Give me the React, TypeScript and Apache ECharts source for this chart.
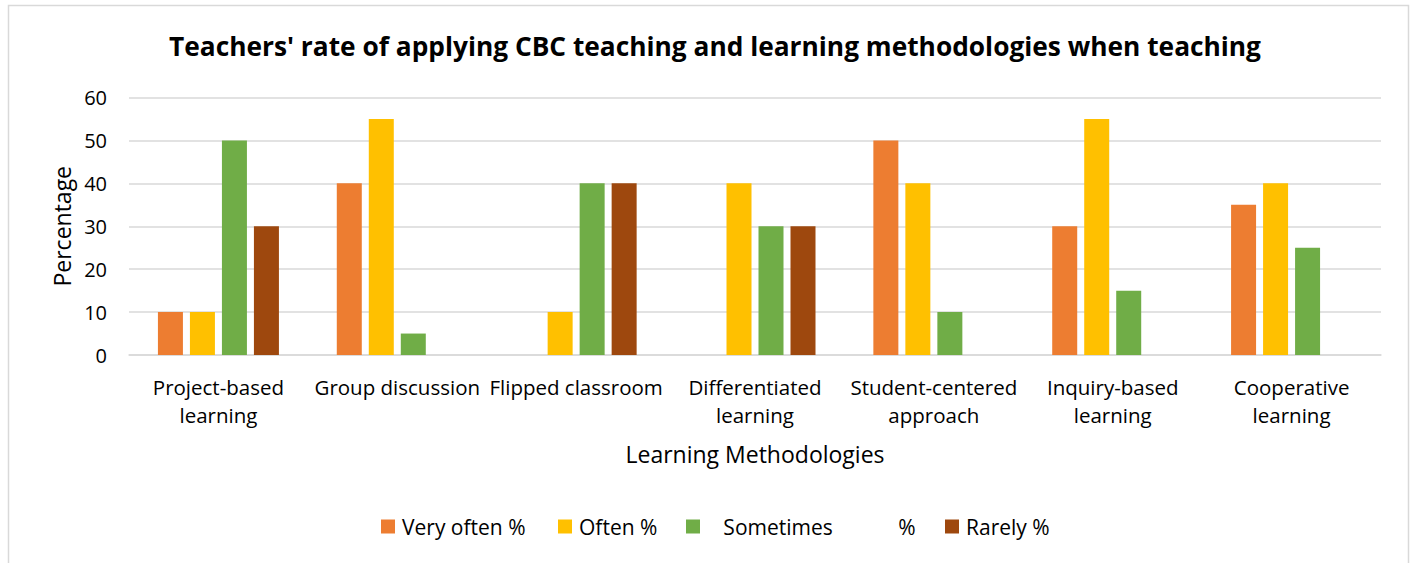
import React, { useEffect, useRef } from "react";
import * as echarts from "echarts";

const categories = [
  "Project-based\nlearning",
  "Group discussion",
  "Flipped classroom",
  "Differentiated\nlearning",
  "Student-centered\napproach",
  "Inquiry-based\nlearning",
  "Cooperative\nlearning",
];
const seriesNames = ["Very often %", "Often %", "   Sometimes            %", "Rarely %"];
const veryOften = [10, 40, 0, 0, 50, 30, 35];
const often = [10, 55, 10, 40, 40, 55, 40];
const sometimes = [50, 5, 40, 30, 10, 15, 25];
const rarely = [30, 0, 40, 30, 0, 0, 0];
const colors = ["#ED7D31", "#FFC000", "#70AD47", "#9E480E"];
const yTicks = { min: 0, max: 60, interval: 10 };

const FONT = "'Open Sans', sans-serif";
const legendLefts = [381, 558, 686, 945];

export default function App() {
  const ref = useRef<HTMLDivElement>(null);
  useEffect(() => {
    if (!ref.current) return;
    const chart = echarts.init(ref.current, null, { renderer: "svg" });
    const values = [veryOften, often, sometimes, rarely];
    chart.setOption({
      animation: false,
      backgroundColor: "#fff",
      textStyle: { fontFamily: FONT },
      title: {
        text: "Teachers' rate of applying CBC teaching and learning methodologies when teaching",
        left: 710,
        top: 28,
        textAlign: "center",
        textStyle: { fontFamily: FONT, fontWeight: "bold", fontSize: 26.3, color: "#000" },
      },
      graphic: [
        {
          type: "rect",
          shape: { x: 8.5, y: 5.5, width: 1400, height: 570 },
          style: { fill: "none", stroke: "#D9D9D9", lineWidth: 1.5 },
          silent: true,
        },
      ],
      legend: seriesNames.map((n, i) => ({
        left: legendLefts[i],
        top: 516,
        padding: 0,
        itemWidth: 14,
        itemHeight: 14,
        icon: "rect",
        textStyle: { fontFamily: FONT, fontSize: 21, color: "#000", padding: [0, 0, 0, 2] },
        data: [n],
      })),
      grid: { left: 129, right: 35, top: 97.5, bottom: 208 },
      xAxis: {
        type: "category",
        data: categories,
        name: "Learning Methodologies",
        nameLocation: "middle",
        nameGap: 87,
        nameTextStyle: { fontFamily: FONT, fontSize: 23, color: "#000" },
        axisLine: { lineStyle: { color: "#D9D9D9", width: 1.5 } },
        axisTick: { show: false },
        axisLabel: {
          interval: 0,
          fontFamily: FONT,
          fontSize: 20.5,
          color: "#000",
          lineHeight: 28,
          margin: 18,
        },
      },
      yAxis: {
        type: "value",
        min: yTicks.min,
        max: yTicks.max,
        interval: yTicks.interval,
        name: "Percentage",
        nameLocation: "middle",
        nameGap: 55,
        nameTextStyle: { fontFamily: FONT, fontSize: 23, color: "#000" },
        axisLine: { show: false },
        axisTick: { show: false },
        axisLabel: { fontFamily: FONT, fontSize: 20, color: "#000", margin: 22 },
        splitLine: { lineStyle: { color: "#D9D9D9", width: 1.5 } },
      },
      series: seriesNames.map((name, i) => ({
        name,
        type: "bar",
        data: values[i],
        barWidth: 25,
        barGap: "28%",
        itemStyle: { color: colors[i] },
      })),
    });
    return () => chart.dispose();
  }, []);
  return (
    <div
      ref={ref}
      style={{ position: "fixed", left: 0, top: 0, width: 1416, height: 563 }}
    />
  );
}
